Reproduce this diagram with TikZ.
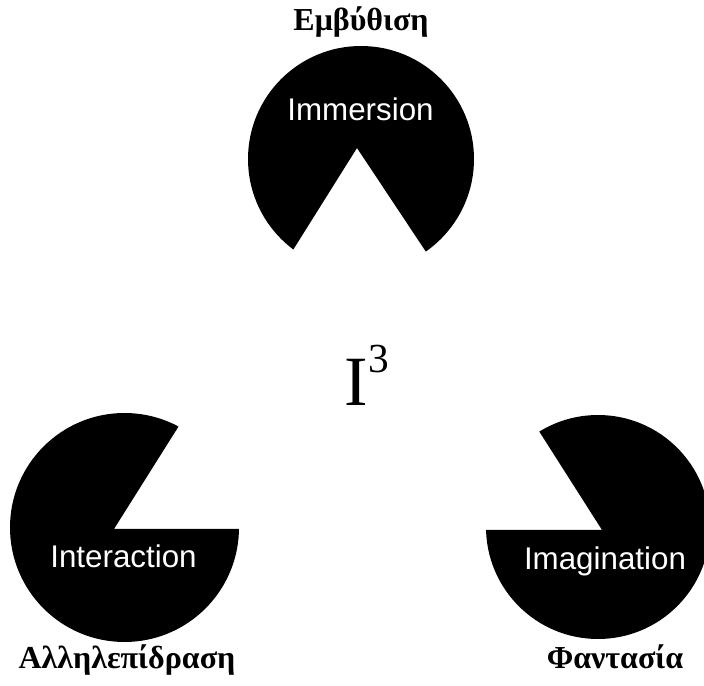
\documentclass[tikz,border=0pt]{standalone}
\usepackage{fontspec}
\setmainfont{Liberation Serif}
\newfontfamily\arialf{Liberation Sans}
\usepackage{tikz}
\usetikzlibrary{calc}
\tikzset{
  grk/.style={font=\fontsize{24}{26}\selectfont\bfseries,anchor=base,inner sep=0pt},
  lbl/.style={font=\arialf\fontsize{23.5}{26}\selectfont,text=white,anchor=base,inner sep=0pt}
}
% pac-man: centre x, centre y, radius, apex x, apex y, first and second edge angle
\newcommand{\pac}[7]{%
  \begin{scope}[even odd rule]
  \clip (-100,-100) rectangle (800,800)
    (#4,#5) -- ($(#4,#5)+(#6:2*#3)$) -- ($(#4,#5)+(#7:2*#3)$) -- cycle;
  \fill[black] (#1,#2) circle (#3);
  \end{scope}}

\begin{document}
\begin{tikzpicture}[x=0.75pt,y=0.75pt]
\useasboundingbox (0,0) rectangle (704,686);
\pac{361}{527}{113}{357}{538}{237.9}{303.6}
\pac{124.5}{158.5}{114.5}{114}{157}{0}{57.8}
\pac{598}{159}{112}{602}{156}{122.5}{180}
\node[lbl] (imm) at (360.5,565) {Immersion};
\node[lbl] (inter) at (123.5,118) {Interaction};
\node[lbl] (imag) at (605,116) {Imagination};
\node[grk] (embt) at (361,655) {Εμβύθιση};
\node[grk] (allt) at (127,17) {Αλληλεπίδραση};
\node[grk] (fant) at (615,17) {Φαντασία};
\node[anchor=base,inner sep=0pt,font=\fontsize{53}{60}\selectfont] (icube) at (367,280) {I\raisebox{25pt}{\fontsize{31}{35}\selectfont 3}};
\end{tikzpicture}
\end{document}
